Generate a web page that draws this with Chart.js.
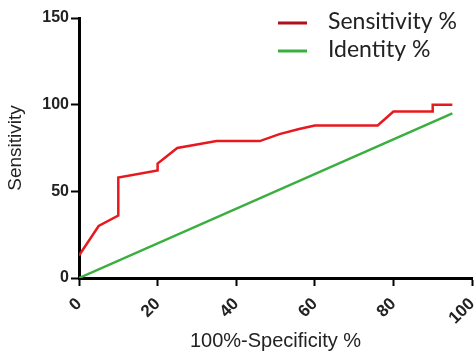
<!DOCTYPE html>
<html>
<head>
<meta charset="utf-8">
<script src="https://cdn.jsdelivr.net/npm/chart.js@4"></script>
<style>
  html, body { margin: 0; padding: 0; background: #fff; }
  #wrap { width: 476px; height: 355px; }
</style>
</head>
<body>
<div id="wrap"><canvas id="myChart"></canvas></div>
<script>
// ROC curve

const specX = [0, 5, 10, 10, 20, 20, 25, 35, 46, 51, 56, 60, 76, 80, 90, 90, 95];
const sensY = [13, 30, 36, 58, 62, 66, 75, 79, 79, 83, 86, 88, 88, 96, 96, 100, 100];

const identityX = [0, 95];
const identityY = [0, 95];

const xTicks = [0, 20, 40, 60, 80, 100];
const yTicks = [0, 50, 100, 150];

const toPoints = (xs, ys) => xs.map((x, i) => ({ x: x, y: ys[i] }));

// legend drawn inside the plot, top right
const innerLegend = {
  id: 'innerLegend',
  afterDraw(chart) {
    const ctx = chart.ctx;
    const area = chart.chartArea;
    const x0 = area.right - 194;
    ctx.save();
    ctx.font = '23px Lato';
    ctx.textBaseline = 'middle';
    ctx.fillStyle = '#222';
    chart.data.datasets.forEach((ds, i) => {
      const y = area.top + 5 + i * 28;
      ctx.strokeStyle = ds.legendColor;
      ctx.lineWidth = 3;
      ctx.beginPath();
      ctx.moveTo(x0, y);
      ctx.lineTo(x0 + 29, y);
      ctx.stroke();
      ctx.fillText(ds.label, x0 + 50, y - 1);
    });
    ctx.restore();
  }
};

const data = {
  datasets: [
    {
      label: 'Sensitivity %',
      data: toPoints(specX, sensY),
      borderColor: '#e8191e',
      legendColor: '#b0101a',
      borderWidth: 2.5,
      pointRadius: 0,
      tension: 0,
      fill: false,
    },
    {
      label: 'Identity %',
      data: toPoints(identityX, identityY),
      borderColor: '#3aae3f',
      legendColor: '#3aae3f',
      borderWidth: 2.5,
      pointRadius: 0,
      tension: 0,
      fill: false,
    },
  ]
};

const config = {
  type: 'line',
  data: data,
  plugins: [innerLegend],
  options: {
    responsive: true,
    maintainAspectRatio: false,
    animation: false,
    layout: {
      padding: { top: 18, right: 4, left: 0, bottom: 0 }
    },
    scales: {
      x: {
        type: 'linear',
        min: 0,
        max: 100,
        afterFit: (scale) => {
          scale.height = 77;
          scale.paddingLeft = 0;
          scale.paddingRight = 0;
        },
        afterBuildTicks: (scale) => { scale.ticks = xTicks.map(v => ({ value: v })); },
        grid: { drawOnChartArea: false, tickLength: 8, tickWidth: 2, tickColor: '#000' },
        border: { color: '#000', width: 3 },
        ticks: {
          minRotation: 45,
          maxRotation: 45,
          padding: 8,
          color: '#222',
          font: { family: 'Liberation Sans', size: 17, weight: 'bold' }
        },
        title: {
          display: true,
          text: '100%-Specificity %',
          color: '#222',
          padding: { top: 0, bottom: 2 },
          font: { family: 'Liberation Sans', size: 20 }
        }
      },
      y: {
        min: 0,
        max: 150,
        afterFit: (scale) => {
          scale.width = 79;
          scale.paddingTop = 0;
          scale.paddingBottom = 0;
        },
        afterBuildTicks: (scale) => { scale.ticks = yTicks.map(v => ({ value: v })); },
        grid: { drawOnChartArea: false, tickLength: 8, tickWidth: 2, tickColor: '#000' },
        border: { color: '#000', width: 3 },
        ticks: {
          padding: 2,
          color: '#222',
          font: { family: 'Liberation Sans', size: 16, weight: 'bold' }
        },
        title: {
          display: true,
          text: 'Sensitivity',
          color: '#222',
          padding: { top: 4, bottom: 0 },
          font: { family: 'Liberation Sans', size: 19 }
        }
      }
    },
    plugins: {
      legend: { display: false },
      tooltip: { enabled: false }
    }
  }
};

const myChart = new Chart(document.getElementById('myChart'), config);
</script>
</body>
</html>
